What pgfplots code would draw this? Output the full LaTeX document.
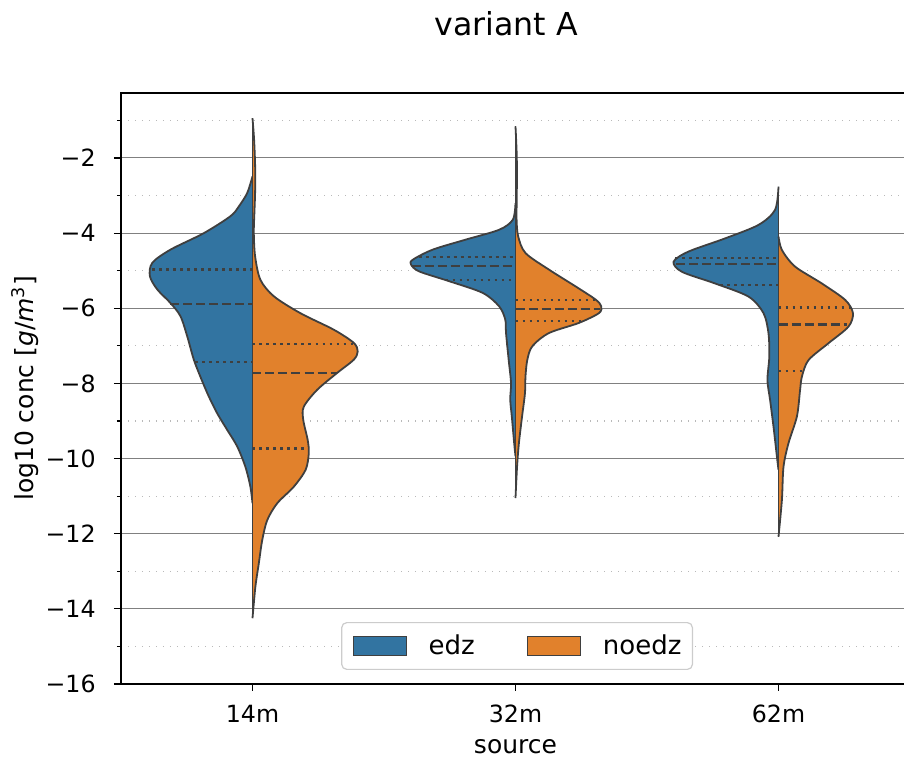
\documentclass[border=0pt]{standalone}
\usepackage{fontspec}
\setmainfont{DejaVu Sans}
\usepackage{pgfplots}
\usepackage{pgfplotstable}
\pgfplotsset{compat=1.18}
\definecolor{vblue}{HTML}{3274A1}
\definecolor{vorange}{HTML}{E1812C}
\definecolor{vedge}{HTML}{3F3F3F}
\definecolor{lgedge}{HTML}{CCCCCC}

% blue (edz) halves: y, half-width
\pgfplotstableread{
y w
-2.49 0
-2.93 0.020
-3.29 0.052
-3.55 0.084
-4.00 0.185
-4.44 0.312
-4.79 0.381
-5.15 0.390
-5.50 0.362
-5.86 0.312
-6.21 0.274
-6.75 0.248
-7.37 0.223
-7.91 0.193
-8.35 0.166
-8.80 0.134
-9.24 0.096
-9.68 0.058
-10.22 0.027
-10.75 0.008
-11.19 0
}\bA
\pgfplotstableread{
y w
-0.94 0
-1.50 0.006
-2.20 0.010
-2.90 0.010
-3.50 0.007
-4.00 0.005
-4.62 0.010
-5.24 0.030
-5.68 0.081
-6.13 0.182
-6.57 0.309
-6.92 0.385
-7.15 0.400
-7.37 0.385
-7.72 0.322
-8.17 0.246
-8.62 0.195
-8.97 0.193
-9.51 0.210
-9.86 0.214
-10.30 0.202
-10.75 0.157
-11.19 0.094
-11.64 0.056
-12.17 0.037
-12.79 0.024
-13.41 0.011
-14.25 0
}\oA
\pgfplotstableread{
y w
-3.20 0
-3.64 0.010
-3.91 0.062
-4.17 0.188
-4.44 0.315
-4.71 0.391
-4.84 0.397
-5.02 0.366
-5.28 0.252
-5.59 0.125
-5.95 0.062
-6.30 0.039
-6.66 0.036
-7.37 0.026
-7.99 0.017
-8.43 0.020
-8.88 0.014
-9.59 0.005
-9.94 0
}\bB
\pgfplotstableread{
y w
-1.16 0
-2.00 0.005
-3.00 0.005
-3.60 0.004
-4.08 0.010
-4.53 0.038
-4.97 0.127
-5.42 0.229
-5.77 0.305
-5.95 0.326
-6.13 0.317
-6.39 0.241
-6.66 0.127
-7.01 0.064
-7.37 0.045
-7.81 0.038
-8.26 0.036
-8.88 0.025
-9.59 0.013
-10.21 0.006
-11.05 0
}\oB
\pgfplotstableread{
y w
-2.76 0
-3.38 0.013
-3.78 0.076
-4.14 0.203
-4.49 0.342
-4.76 0.399
-5.03 0.367
-5.34 0.241
-5.69 0.114
-6.13 0.057
-6.67 0.038
-7.29 0.035
-7.91 0.042
-8.44 0.032
-9.15 0.019
-9.95 0.006
-10.30 0
}\bC
\pgfplotstableread{
y w
-4.09 0
-4.45 0.013
-4.89 0.063
-5.34 0.165
-5.78 0.254
-6.13 0.283
-6.49 0.266
-6.93 0.190
-7.38 0.114
-7.82 0.089
-8.18 0.082
-8.88 0.070
-9.59 0.038
-10.22 0.019
-11.10 0.013
-12.08 0
}\oC

\begin{document}
\begin{tikzpicture}
\begin{axis}[
  at={(0,0)}, anchor=south west,
  scale only axis, width=394.5pt, height=295.5pt,
  xmin=-0.5, xmax=2.5, ymin=-16, ymax=-0.27,
  xtick={0,1,2}, xticklabels={14m,32m,62m},
  ytick={-16,-14,-12,-10,-8,-6,-4,-2},
  yticklabels={−16,−14,−12,−10,−8,−6,−4,−2},
  minor ytick={-15,-13,-11,-9,-7,-5,-3,-1},
  tick pos=left, tick align=outside,
  major tick length=3.5pt, minor tick length=2pt,
  tick style={black, line width=0.6pt},
  ymajorgrids, yminorgrids,
  major grid style={draw=gray, line width=0.5pt},
  minor grid style={draw=gray!55, line width=0.6pt, dash pattern=on 0.6pt off 2.9pt},
  axis line style={line width=0.7pt},
  ticklabel style={font=\fontsize{11.85}{14}\selectfont},
  xticklabel style={anchor=base, inner sep=0pt, yshift=-16pt},
  yticklabel style={anchor=east, inner sep=0pt, xshift=-9pt},
  title={variant A},
  title style={at={(axis description cs:0.488,1)}, anchor=base, yshift=22.5pt, font=\fontsize{15.8}{19}\selectfont},
  xlabel={source},
  xlabel style={at={(axis description cs:0.5,0)}, anchor=base, yshift=-35pt, font=\fontsize{12.5}{15}\selectfont},
  ylabel={log10 conc [\textit{g}/\textit{m}\textsuperscript{3}]},
  ylabel style={at={(axis description cs:-0.1115,0.5)}, anchor=base, font=\fontsize{12.5}{15}\selectfont},
  no markers,
  legend columns=2,
  legend image code/.code={\draw[#1, sharp corners, line width=0.5pt] (0pt,-4.75pt) rectangle (26.5pt,4.75pt);},
  legend style={at={(axis description cs:0.502,0.0237)}, anchor=south,
    draw=lgedge, line width=0.6pt, fill=white, rounded corners=2.5pt,
    inner xsep=5.5pt, inner ysep=6pt,
    font=\fontsize{13}{15}\selectfont,
    nodes={inner sep=0pt},
    /tikz/every odd column/.append style={column sep=11pt},
    /tikz/every even column/.append style={column sep=26pt}},
  violin/.style={line width=0.9pt, draw=vedge, line join=round, smooth, tension=0.5, forget plot},
  qdash/.style={line width=1.1pt, draw=vedge, dash pattern=on 4.5pt off 2pt, forget plot},
  qdot/.style={line width=1.1pt, draw=vedge, dash pattern=on 1.4pt off 2.1pt, forget plot},
]
\coordinate (bl) at (rel axis cs:0,0);
% 14m
\addplot[violin, fill=vblue] table[x expr=0-\thisrow{w}, y=y] {\bA};
\addplot[violin, fill=vorange] table[x expr=0+\thisrow{w}, y=y] {\oA};
\addplot[violin, smooth=false] coordinates {(0,-0.94) (0,-14.25)};
\addplot[qdot]  coordinates {(-0.381,-4.97) (0,-4.97)};
\addplot[qdash] coordinates {(-0.312,-5.88) (0,-5.88)};
\addplot[qdot]  coordinates {(-0.217,-7.43) (0,-7.43)};
\addplot[qdot]  coordinates {(0,-6.95) (0.385,-6.95)};
\addplot[qdash] coordinates {(0,-7.72) (0.322,-7.72)};
\addplot[qdot]  coordinates {(0,-9.73) (0.214,-9.73)};
% 32m
\addplot[violin, fill=vblue] table[x expr=1-\thisrow{w}, y=y] {\bB};
\addplot[violin, fill=vorange] table[x expr=1+\thisrow{w}, y=y] {\oB};
\addplot[violin, smooth=false] coordinates {(1,-1.16) (1,-11.05)};
\addplot[qdot]  coordinates {(0.632,-4.64) (1,-4.64)};
\addplot[qdash] coordinates {(0.605,-4.87) (1,-4.87)};
\addplot[qdot]  coordinates {(0.734,-5.24) (1,-5.24)};
\addplot[qdot]  coordinates {(1,-5.77) (1.305,-5.77)};
\addplot[qdash] coordinates {(1,-6.02) (1.323,-6.02)};
\addplot[qdot]  coordinates {(1,-6.33) (1.262,-6.33)};
% 62m
\addplot[violin, fill=vblue] table[x expr=2-\thisrow{w}, y=y] {\bC};
\addplot[violin, fill=vorange] table[x expr=2+\thisrow{w}, y=y] {\oC};
\addplot[violin, smooth=false] coordinates {(2,-2.76) (2,-12.08)};
\addplot[qdot]  coordinates {(1.607,-4.67) (2,-4.67)};
\addplot[qdash] coordinates {(1.610,-4.82) (2,-4.82)};
\addplot[qdot]  coordinates {(1.779,-5.38) (2,-5.38)};
\addplot[qdot]  coordinates {(2,-5.98) (2.278,-5.98)};
\addplot[qdash] coordinates {(2,-6.43) (2.260,-6.43)};
\addplot[qdot]  coordinates {(2,-7.66) (2.089,-7.66)};
\addlegendimage{fill=vblue, draw=vedge}
\addlegendentry{edz}
\addlegendimage{fill=vorange, draw=vedge}
\addlegendentry{noedz}
\end{axis}
\pgfresetboundingbox
\path ([shift={(-60.5pt,-37pt)}]bl) rectangle ([shift={(391.5pt,342pt)}]bl);
\end{tikzpicture}
\end{document}
